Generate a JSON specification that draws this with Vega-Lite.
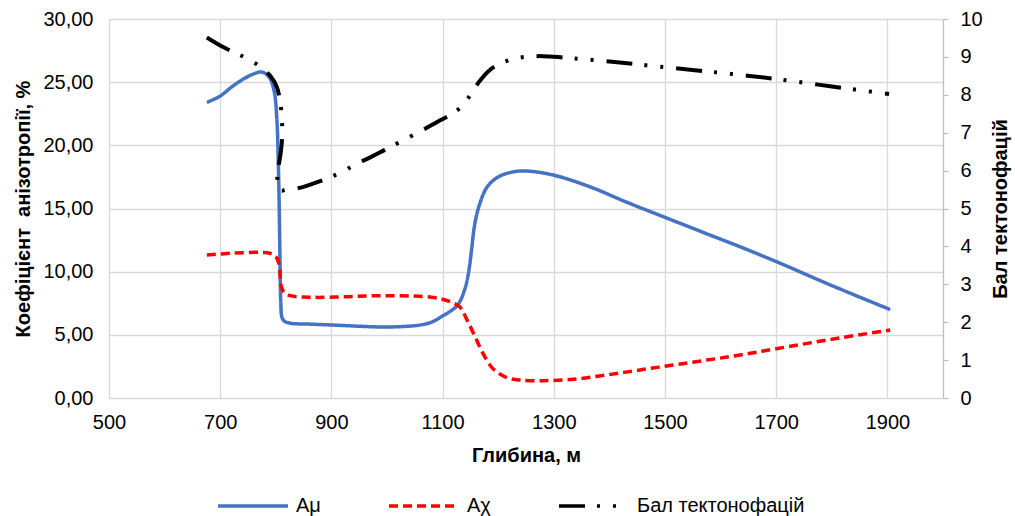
{
  "$schema": "https://vega.github.io/schema/vega-lite/v6.json",
  "width": 834,
  "height": 379,
  "autosize": {"type": "none"},
  "padding": {"left": 109, "top": 19, "right": 72, "bottom": 118},
  "config": {
    "locale": {"number": {"decimal": ",", "thousands": "\u00a0", "grouping": [3], "currency": ["", ""]}},
    "font": "Liberation Sans",
    "view": {"stroke": null},
    "axis": {
      "labelFont": "Liberation Sans",
      "labelFontSize": 20,
      "labelColor": "#000000",
      "titleFont": "Liberation Sans",
      "titleFontSize": 20,
      "titleFontWeight": "bold",
      "titleColor": "#000000",
      "gridColor": "#d9d9d9",
      "gridWidth": 1.3,
      "labelFlush": false
    }
  },
  "datasets": {
    "lines": [
      {"series": "Aμ", "depth": 676, "value": 23.4},
      {"series": "Aμ", "depth": 700, "value": 23.9},
      {"series": "Aμ", "depth": 720, "value": 24.6},
      {"series": "Aμ", "depth": 740, "value": 25.2},
      {"series": "Aμ", "depth": 760, "value": 25.65},
      {"series": "Aμ", "depth": 775, "value": 25.8},
      {"series": "Aμ", "depth": 788, "value": 25.4},
      {"series": "Aμ", "depth": 797, "value": 24.3},
      {"series": "Aμ", "depth": 802, "value": 22.0},
      {"series": "Aμ", "depth": 804, "value": 19.5},
      {"series": "Aμ", "depth": 806, "value": 15.5},
      {"series": "Aμ", "depth": 807.5, "value": 11.0},
      {"series": "Aμ", "depth": 809, "value": 7.5},
      {"series": "Aμ", "depth": 811, "value": 6.4},
      {"series": "Aμ", "depth": 815, "value": 6.1},
      {"series": "Aμ", "depth": 826, "value": 5.92},
      {"series": "Aμ", "depth": 860, "value": 5.85},
      {"series": "Aμ", "depth": 900, "value": 5.78},
      {"series": "Aμ", "depth": 950, "value": 5.68},
      {"series": "Aμ", "depth": 990, "value": 5.62},
      {"series": "Aμ", "depth": 1030, "value": 5.66},
      {"series": "Aμ", "depth": 1060, "value": 5.78},
      {"series": "Aμ", "depth": 1080, "value": 6.0},
      {"series": "Aμ", "depth": 1098, "value": 6.44},
      {"series": "Aμ", "depth": 1115, "value": 6.9},
      {"series": "Aμ", "depth": 1125, "value": 7.25},
      {"series": "Aμ", "depth": 1133, "value": 7.8},
      {"series": "Aμ", "depth": 1139, "value": 8.5},
      {"series": "Aμ", "depth": 1143, "value": 9.1},
      {"series": "Aμ", "depth": 1148, "value": 10.3},
      {"series": "Aμ", "depth": 1152, "value": 11.7},
      {"series": "Aμ", "depth": 1158, "value": 13.8},
      {"series": "Aμ", "depth": 1167, "value": 15.4},
      {"series": "Aμ", "depth": 1180, "value": 16.7},
      {"series": "Aμ", "depth": 1200, "value": 17.5},
      {"series": "Aμ", "depth": 1225, "value": 17.88},
      {"series": "Aμ", "depth": 1250, "value": 17.97},
      {"series": "Aμ", "depth": 1299, "value": 17.65},
      {"series": "Aμ", "depth": 1366, "value": 16.7},
      {"series": "Aμ", "depth": 1431, "value": 15.5},
      {"series": "Aμ", "depth": 1497, "value": 14.35},
      {"series": "Aμ", "depth": 1575, "value": 13.0},
      {"series": "Aμ", "depth": 1635, "value": 11.97},
      {"series": "Aμ", "depth": 1700, "value": 10.8},
      {"series": "Aμ", "depth": 1800, "value": 8.9},
      {"series": "Aμ", "depth": 1905, "value": 7.0},
      {"series": "Aχ", "depth": 676, "value": 11.32},
      {"series": "Aχ", "depth": 718, "value": 11.45},
      {"series": "Aχ", "depth": 772, "value": 11.53},
      {"series": "Aχ", "depth": 790, "value": 11.45},
      {"series": "Aχ", "depth": 800, "value": 11.2},
      {"series": "Aχ", "depth": 806, "value": 10.6},
      {"series": "Aχ", "depth": 808, "value": 9.6},
      {"series": "Aχ", "depth": 810, "value": 8.8},
      {"series": "Aχ", "depth": 815, "value": 8.35},
      {"series": "Aχ", "depth": 826, "value": 8.1},
      {"series": "Aχ", "depth": 867, "value": 7.97},
      {"series": "Aχ", "depth": 928, "value": 8.02},
      {"series": "Aχ", "depth": 987, "value": 8.1},
      {"series": "Aχ", "depth": 1047, "value": 8.07},
      {"series": "Aχ", "depth": 1080, "value": 7.98},
      {"series": "Aχ", "depth": 1101, "value": 7.8},
      {"series": "Aχ", "depth": 1117, "value": 7.55},
      {"series": "Aχ", "depth": 1131, "value": 7.2},
      {"series": "Aχ", "depth": 1146, "value": 6.0},
      {"series": "Aχ", "depth": 1160, "value": 4.7},
      {"series": "Aχ", "depth": 1173, "value": 3.5},
      {"series": "Aχ", "depth": 1188, "value": 2.45},
      {"series": "Aχ", "depth": 1203, "value": 1.9},
      {"series": "Aχ", "depth": 1220, "value": 1.55},
      {"series": "Aχ", "depth": 1240, "value": 1.42},
      {"series": "Aχ", "depth": 1281, "value": 1.37},
      {"series": "Aχ", "depth": 1335, "value": 1.48},
      {"series": "Aχ", "depth": 1395, "value": 1.82},
      {"series": "Aχ", "depth": 1455, "value": 2.22},
      {"series": "Aχ", "depth": 1515, "value": 2.61},
      {"series": "Aχ", "depth": 1575, "value": 3.0},
      {"series": "Aχ", "depth": 1635, "value": 3.4},
      {"series": "Aχ", "depth": 1700, "value": 3.9},
      {"series": "Aχ", "depth": 1800, "value": 4.65},
      {"series": "Aχ", "depth": 1905, "value": 5.38}
    ],
    "bal": [
      {"series": "Бал тектонофацій", "depth": 676, "score": 9.51},
      {"series": "Бал тектонофацій", "depth": 700, "score": 9.3},
      {"series": "Бал тектонофацій", "depth": 722, "score": 9.14},
      {"series": "Бал тектонофацій", "depth": 748, "score": 8.96},
      {"series": "Бал тектонофацій", "depth": 772, "score": 8.74},
      {"series": "Бал тектонофацій", "depth": 791, "score": 8.48},
      {"series": "Бал тектонофацій", "depth": 802, "score": 8.2},
      {"series": "Бал тектонофацій", "depth": 808, "score": 7.8},
      {"series": "Бал тектонофацій", "depth": 811, "score": 7.33},
      {"series": "Бал тектонофацій", "depth": 811.5, "score": 6.91},
      {"series": "Бал тектонофацій", "depth": 809, "score": 6.49},
      {"series": "Бал тектонофацій", "depth": 803, "score": 5.9},
      {"series": "Бал тектонофацій", "depth": 804, "score": 5.55},
      {"series": "Бал тектонофацій", "depth": 810, "score": 5.47},
      {"series": "Бал тектонофацій", "depth": 817, "score": 5.49},
      {"series": "Бал тектонофацій", "depth": 845, "score": 5.55},
      {"series": "Бал тектонофацій", "depth": 872, "score": 5.68},
      {"series": "Бал тектонофацій", "depth": 920, "score": 5.97},
      {"series": "Бал тектонофацій", "depth": 944, "score": 6.17},
      {"series": "Бал тектонофацій", "depth": 970, "score": 6.35},
      {"series": "Бал тектонофацій", "depth": 995, "score": 6.54},
      {"series": "Бал тектонофацій", "depth": 1041, "score": 6.89},
      {"series": "Бал тектонофацій", "depth": 1067, "score": 7.09},
      {"series": "Бал тектонофацій", "depth": 1091, "score": 7.29},
      {"series": "Бал тектонофацій", "depth": 1116, "score": 7.49},
      {"series": "Бал тектонофацій", "depth": 1135, "score": 7.7},
      {"series": "Бал тектонофацій", "depth": 1152, "score": 8.04},
      {"series": "Бал тектонофацій", "depth": 1167, "score": 8.37},
      {"series": "Бал тектонофацій", "depth": 1187, "score": 8.68},
      {"series": "Бал тектонофацій", "depth": 1221, "score": 8.92},
      {"series": "Бал тектонофацій", "depth": 1248, "score": 9.0},
      {"series": "Бал тектонофацій", "depth": 1280, "score": 9.02},
      {"series": "Бал тектонофацій", "depth": 1320, "score": 8.98},
      {"series": "Бал тектонофацій", "depth": 1400, "score": 8.88},
      {"series": "Бал тектонофацій", "depth": 1498, "score": 8.73},
      {"series": "Бал тектонофацій", "depth": 1600, "score": 8.58},
      {"series": "Бал тектонофацій", "depth": 1698, "score": 8.42},
      {"series": "Бал тектонофацій", "depth": 1800, "score": 8.22},
      {"series": "Бал тектонофацій", "depth": 1903, "score": 8.02}
    ]
  },
  "encoding": {
    "x": {
      "field": "depth",
      "type": "quantitative",
      "scale": {"domain": [500, 2000], "nice": false, "zero": false},
      "axis": {
        "title": "Глибина, м",
        "values": [500, 700, 900, 1100, 1300, 1500, 1700, 1900],
        "format": "d",
        "grid": true,
        "domain": true,
        "domainColor": "#d9d9d9",
        "ticks": false,
        "labelFlush": false,
        "labelPadding": 14,
        "titlePadding": 13
      }
    }
  },
  "layer": [
    {
      "data": {"name": "lines"},
      "mark": {"type": "line", "interpolate": "catmull-rom", "strokeWidth": 3.5, "strokeCap": "butt"},
      "encoding": {
        "y": {
          "field": "value",
          "type": "quantitative",
          "scale": {"domain": [0, 30], "nice": false},
          "axis": {
            "title": "Коефіцієнт\u00a0 анізотропії, %",
            "orient": "left",
            "values": [0, 5, 10, 15, 20, 25, 30],
            "format": ".2f",
            "grid": true,
            "domain": false,
            "ticks": false,
            "labelPadding": 16,
            "titlePadding": 9
          }
        },
        "order": {"value": null},
        "color": {
          "field": "series",
          "type": "nominal",
          "scale": {"domain": ["Aμ", "Aχ", "Бал тектонофацій"], "range": ["#4472C4", "#FF0000", "#000000"]},
          "legend": {
            "title": null,
            "orient": "none",
            "legendX": 107,
            "legendY": 450,
            "direction": "horizontal",
            "columns": 3,
            "symbolType": "M-1,0H1",
            "symbolSize": 4900,
            "symbolStrokeWidth": 3.5,
            "labelFont": "Liberation Sans",
            "labelFontSize": 20,
            "labelColor": "#000000",
            "labelOffset": 6,
            "labelLimit": 400,
            "columnPadding": 61,
            "padding": 0
          }
        },
        "strokeDash": {
          "field": "series",
          "type": "nominal",
          "scale": {"domain": ["Aμ", "Aχ", "Бал тектонофацій"], "range": [[1, 0], [9, 5], [26, 12, 3, 13, 3, 13]]},
          "legend": {
            "title": null,
            "orient": "none",
            "legendX": 107,
            "legendY": 450,
            "direction": "horizontal",
            "columns": 3,
            "symbolType": "M-1,0H1",
            "symbolSize": 4900,
            "symbolStrokeWidth": 3.5,
            "labelFont": "Liberation Sans",
            "labelFontSize": 20,
            "labelColor": "#000000",
            "labelOffset": 6,
            "labelLimit": 400,
            "columnPadding": 61,
            "padding": 0
          }
        }
      }
    },
    {
      "data": {"name": "bal"},
      "mark": {"type": "line", "interpolate": "catmull-rom", "strokeWidth": 4, "strokeCap": "butt"},
      "encoding": {
        "y": {
          "field": "score",
          "type": "quantitative",
          "scale": {"domain": [0, 10], "nice": false},
          "axis": {
            "title": "Бал тектонофацій",
            "orient": "right",
            "values": [0, 1, 2, 3, 4, 5, 6, 7, 8, 9, 10],
            "format": "d",
            "grid": false,
            "domain": true,
            "domainColor": "#bfbfbf",
            "domainWidth": 1.3,
            "ticks": true,
            "tickColor": "#bfbfbf",
            "tickSize": 5,
            "tickWidth": 1.3,
            "labelPadding": 12,
            "labelFlush": false,
            "titleAngle": 270,
            "titleBaseline": "top",
            "titlePadding": 8
          }
        },
        "order": {"value": null},
        "color": {"field": "series", "type": "nominal"},
        "strokeDash": {"field": "series", "type": "nominal"}
      }
    }
  ],
  "resolve": {"scale": {"y": "independent"}}
}
